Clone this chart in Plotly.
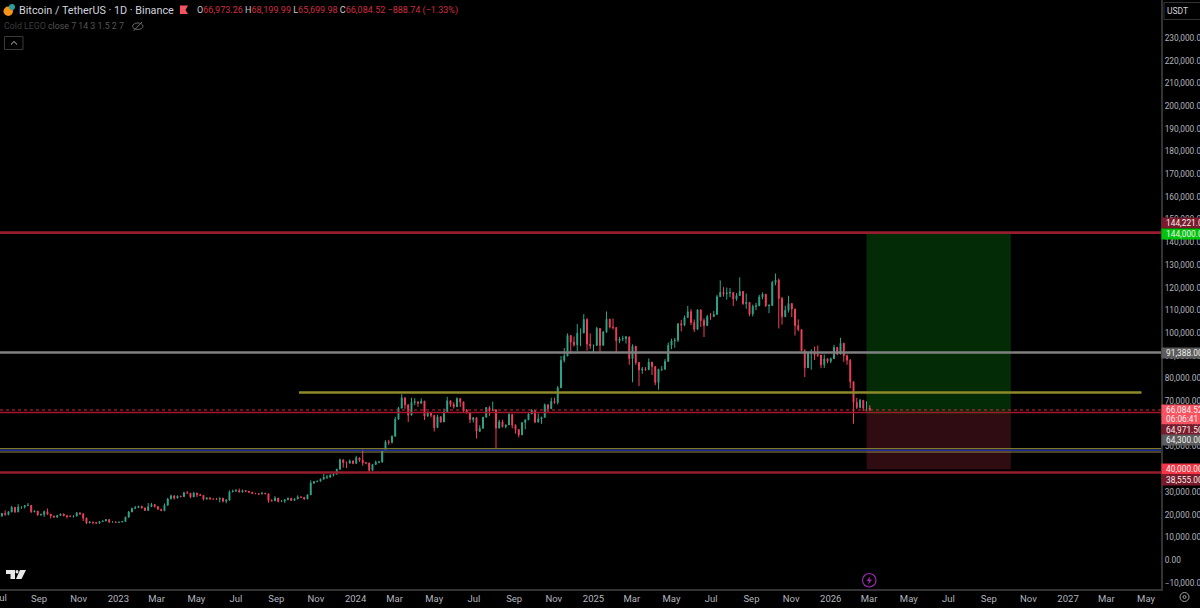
import pandas as pd
import plotly.graph_objects as go

# ---------- data (one candle per 5 days) ----------
first_date = "2022-07-01"
first_open = 19000
closes = [
    19300,20550,19950,21200,23200,21250,23300,23300,23950,24100,
    21150,21550,19800,20000,21350,20200,19400,18900,19600,20300,
    19450,19200,19150,19350,20800,20200,18500,16300,16700,16600,
    16200,16900,17200,17800,16750,16800,16550,16700,16950,18850,
    21150,22700,23050,23700,22950,21850,23500,24450,23550,22350,
    21700,24100,26900,28300,27250,28200,27900,29650,29450,27800,
    29500,28700,28450,26800,27400,26850,26850,26800,27250,25900,
    26350,30000,30300,30600,29900,30600,30250,29900,29350,29250,
    29050,29400,29150,26150,26050,27300,25800,25900,26500,27200,
    26250,26900,27800,27600,26850,28700,33900,34500,34700,35600,
    36450,36550,37300,37800,39950,44150,42900,42650,43700,42550,
    45000,43950,42800,42750,39500,42100,43100,43100,48300,52100,
    51800,54500,62000,66900,71500,68400,63800,69450,69700,69000,
    70000,63400,64950,63750,58300,63150,60800,65250,70150,68500,
    67500,71100,69650,66000,64800,61800,62700,56650,58000,62900,
    67150,65800,66200,58100,60900,58700,59500,64150,59350,57500,
    55100,60550,61750,64300,65800,60750,62150,62850,68400,66650,
    69900,69350,75850,87950,89850,98900,95950,94800,99850,100000,
    106000,95100,94300,94500,102000,94550,100500,106100,102600,102400,
    96600,97400,97500,98300,88700,94200,87000,83700,84100,83800,
    87200,85200,78200,84000,84000,87500,94600,96500,96800,104100,
    103500,106800,109400,104600,101600,110200,105500,103300,107300,107200,
    108200,116000,117900,117300,117600,117800,115000,116500,118300,112900,
    113500,108400,111700,112000,115900,117100,112000,112100,122300,123300,
    115200,107200,110000,113000,110600,103300,101500,92200,84700,91300,
    91300,90400,90300,86000,88600,87500,88700,93700,90700,95500,
    90000,88000,78500,69500,67200,70400,66900,66973,66084.52,
]
highs = [
    20000,20700,21800,21500,23800,22700,24600,23400,24200,25100,
    23100,21800,20400,20500,21750,22700,19700,19500,19800,20400,
    20450,19900,19700,19600,21000,20800,20700,17000,17100,16800,
    16700,17200,17300,18000,17500,16950,16800,16800,17050,19100,
    21600,23100,23800,23800,23000,22300,25100,25200,23900,23600,
    22600,24900,27400,28800,27500,28450,28150,30000,30400,27900,
    30000,28900,29200,27200,27500,27200,27000,27350,27400,26000,
    26800,30700,31000,31250,31500,31000,30400,30350,29750,29550,
    29300,30000,29650,26250,26800,28100,25900,26400,26800,27500,
    26500,27200,28500,28000,27000,28900,35100,34800,35000,35900,
    37900,37500,37800,38400,40200,44700,43400,43400,44300,43700,
    45900,44500,48900,43200,41000,42200,43800,43700,48500,52800,
    52900,54900,63000,67500,73000,69000,66600,71500,71300,69500,
    71200,64300,65400,65200,60700,64000,61500,66700,71900,69500,
    69500,71700,70200,66800,66500,62300,63000,58400,59400,63000,
    67400,67800,69800,61100,61800,61800,59700,64700,61200,59800,
    55900,60600,61800,64700,66500,62200,64500,63100,68900,67500,
    71500,71500,76700,89900,93400,99800,98700,98400,103900,102000,
    108300,106500,99800,95000,102700,95700,100700,109500,105500,106400,
    102200,98300,98800,98700,96500,95000,92800,84200,85100,85000,
    88800,85500,83500,84200,85500,88500,95800,97500,97800,104200,
    105800,107700,111900,110500,106000,110500,110300,106500,108000,108800,
    109700,116800,123200,120200,120000,119800,117200,117600,124500,117500,
    117400,113300,112500,113300,116800,117900,113300,112700,123000,126200,
    124000,115900,112000,116400,111200,107500,106000,101500,92800,91900,
    92800,94000,94500,88200,90500,89000,89200,94800,91500,97900,
    93000,90500,88500,76500,71400,71000,70400,69900,68199.99,
]
lows = [
    18800,19300,19500,19700,21000,20700,21000,22500,22700,23800,
    20800,21300,19600,19600,19000,19900,18300,18700,18500,19500,
    19300,18300,19000,18700,20100,20050,17200,15800,16500,15700,
    16000,16800,16800,17100,16300,16600,16400,16550,16900,17900,
    20800,22300,22900,22900,22600,21600,23350,24100,23100,22300,
    21600,21800,26600,27200,26600,27900,27700,29300,29300,27200,
    28900,27700,28300,26200,26700,26650,26700,26600,25400,25400,
    25000,28300,29900,30200,29850,30200,29900,29600,29100,29100,
    28600,29300,29000,25200,25800,25950,25400,25600,25200,26800,
    26100,26500,27200,27400,26550,28200,30700,33500,34300,34800,
    36300,35700,36100,36800,38600,43000,40700,40500,43300,42200,
    42600,43200,41500,42200,38500,41900,41900,42600,46800,51300,
    50700,51300,60000,62300,68600,66600,60800,68500,68200,67500,
    69700,61700,63100,62800,56600,62800,60500,61500,69200,67500,
    66700,70400,67400,65000,64500,60300,60600,53500,56800,60600,
    66000,63500,65900,49000,60000,58400,58000,60700,58000,55700,
    54000,57500,57600,62800,65000,60300,61500,60000,67400,65200,
    67500,68800,68500,85000,87000,94000,90800,94000,92000,94200,
    104000,92200,93000,91300,97500,91000,96600,100100,102000,101500,
    91200,95500,96400,95300,86000,78300,86000,76600,82000,83400,
    85800,81500,77000,75000,83200,83900,92800,92900,93500,96000,
    100700,103000,106700,103500,100400,105000,102700,98200,106600,105800,
    107300,110200,116500,116000,114700,115800,111900,114200,117200,112400,
    110700,107400,107300,110000,113400,114800,111500,108700,114000,121000,
    102000,103700,106900,109000,107000,98900,100800,91900,80600,85400,
    83800,88100,89500,84500,84600,86700,86700,89900,90200,94300,
    87300,86000,75700,60000,66500,66800,65600,65500,65699.98,
]
price_ticks = list(range(-10000, 240000, 10000))
date_ticks = ["2022-09-01","2022-11-01","2023-01-01","2023-03-01","2023-05-01","2023-07-01",
              "2023-09-01","2023-11-01","2024-01-01","2024-03-01","2024-05-01","2024-07-01",
              "2024-09-01","2024-11-01","2025-01-01","2025-03-01","2025-05-01","2025-07-01",
              "2025-09-01","2025-11-01","2026-01-01","2026-03-01","2026-05-01","2026-07-01",
              "2026-09-01","2026-11-01","2027-01-01","2027-03-01","2027-05-01"]
date_labels = ["Sep","Nov","2023","Mar","May","Jul","Sep","Nov","2024","Mar","May","Jul","Sep","Nov",
               "2025","Mar","May","Jul","Sep","Nov","2026","Mar","May","Jul","Sep","Nov","2027","Mar","May"]
x_range = ["2022-07-03", "2027-05-24"]
y_range = [-12775, 246696]
target_price, entry_price, stop_price = 144000, 64300, 40000
box_start, box_end = "2026-02-25", "2026-10-05"
level_yellow, yellow_start, yellow_end = 73800, "2023-10-06", "2027-04-24"
level_olive_hi, level_blue, level_olive_lo = 49100, 48300, 47570
level_grey, level_top, level_low, level_mid, level_last = 91388, 144221, 38555, 64971.5, 66084.52
# price, text, background, pixel shift
axis_labels = [
    (144221, "144,221.00", "#7b1a2a", 9.6),
    (144000, "144,000.00", "#00c40a", -1),
    (91388, "91,388.00", "#5c5c5c", 0),
    (66084.52, "66,084.52", "#f7525f", 0),
    (66084.52, "06:06:41", "#f7525f", -9.3),
    (64971.5, "64,971.50", "#7b1a2a", -17),
    (64300, "64,300.00", "#5c5c5c", -25.5),
    (40000, "40,000.00", "#f23645", 0),
    (38555, "38,555.00", "#7b1a2a", -8),
]
W, H = 1200, 608
FONT = "Roboto"
GREY = "#b2b5be"
UP, DOWN = "#2fa58a", "#f0405a"

opens = [first_open] + closes[:-1]
dates = pd.date_range(first_date, periods=len(closes), freq="5D")

fig = go.Figure(go.Candlestick(
    x=dates, open=opens, high=highs, low=lows, close=closes,
    increasing=dict(line=dict(color=UP, width=1), fillcolor=UP),
    decreasing=dict(line=dict(color=DOWN, width=1), fillcolor=DOWN),
    whiskerwidth=0, hoverinfo="skip", showlegend=False,
))

def px(x): return x / W
def py(y): return 1 - y / H

def pshape(kind, x0, y0, x1, y1, **kw):
    fig.add_shape(type=kind, xref="paper", yref="paper",
                  x0=px(x0), y0=py(y0), x1=px(x1), y1=py(y1), **kw)

def ppath(points, close=True, **kw):
    d = "M " + " L ".join(f"{px(a):.5f},{py(b):.5f}" for a, b in points) + (" Z" if close else "")
    fig.add_shape(type="path", xref="paper", yref="paper", path=d, **kw)

def note(text, x, y, size=10, color=GREY, **kw):
    fig.add_annotation(text=text, xref="paper", yref="paper", x=px(x), y=py(y),
                       xanchor=kw.pop("xanchor", "left"), yanchor="middle", showarrow=False,
                       font=dict(family=FONT, size=size, color=color), **kw)

# position boxes
fig.add_shape(type="rect", xref="x", yref="y", x0=box_start, x1=box_end, y0=entry_price, y1=target_price,
              fillcolor="#032c06", line_width=0, layer="below")
fig.add_shape(type="rect", xref="x", yref="y", x0=box_start, x1=box_end, y0=stop_price, y1=entry_price,
              fillcolor="#2e0c12", line_width=0, layer="below")

# horizontal levels
def hline(y, color, width, dash="solid", x0=x_range[0], x1=x_range[1], layer="above"):
    fig.add_shape(type="line", xref="x", yref="y", x0=x0, x1=x1, y0=y, y1=y,
                  line=dict(color=color, width=width, dash=dash), layer=layer)

hline(level_top, "#961c2e", 2.6)
hline(level_low, "#961c2e", 2.6)
hline(level_mid, "#a8162c", 1.5)
hline(level_last, "#d02a40", 1, dash="dot")
hline(level_grey, "#808080", 2.4)
hline(level_yellow, "#8e8a2c", 2.4, x0=yellow_start, x1=yellow_end)
hline(level_olive_hi, "#7d7a28", 1.2)
hline(level_blue, "#1f2c99", 1.5)
hline(level_olive_lo, "#8e8a50", 1)

# header
note("Bitcoin / TetherUS · 1D · Binance", 16.5, 10.5, size=10.8, color="#d1d4dc")
red = lambda s: f'<span style="color:#d22c40">{s}</span>'
note("O" + red("66,973.26") + " H" + red("68,199.99") + " L" + red("65,699.98") +
     " C" + red("66,084.52") + " " + red("−888.74 (−1.33%)"), 195, 10.5, size=9, color="#c8cad0")
note('<span style="color:#3c3c3c">Cold LEGO</span> close 7 14 3 1.5 2 7', 1.5, 26, size=8.8, color="#555555")
note("USDT", 1164.5, 10.5, size=8.5, color="#d1d4dc")

# small icons
pshape("circle", 3.5, 6.5, 13, 16, fillcolor="#f7931a", line_width=0)
pshape("circle", 9, 4, 15, 10, fillcolor="#2aa198", line_width=0)
ppath([(180, 5.5), (188, 5.5), (185.5, 10), (188, 14), (180, 14)], fillcolor="#f7525f", line_width=0)
pshape("circle", 132.5, 23, 143, 29.5, line=dict(color="#6a6a6a", width=1))
ppath([(133.5, 31), (142, 22)], close=False, line=dict(color="#6a6a6a", width=1))
pshape("rect", 4.5, 36.5, 23, 49.5, line=dict(color="#3a3a3a", width=1))
ppath([(11, 44.5), (14, 41.5), (17, 44.5)], close=False, line=dict(color="#c0c0c0", width=1))
pshape("rect", 1164, 2.5, 1210, 19.5, line=dict(color="#333333", width=1))
# TradingView mark
ppath([(6, 570), (15, 570), (15, 579), (10.5, 579), (10.5, 574), (6, 574)], fillcolor="#e8e8e8", line_width=0)
pshape("circle", 15.5, 570, 18.5, 573.5, fillcolor="#e8e8e8", line_width=0)
ppath([(20, 570), (26, 570), (21.5, 579), (16, 579)], fillcolor="#e8e8e8", line_width=0)
# bolt in circle
pshape("circle", 862.5, 573.5, 876, 587, line=dict(color="#9c27b0", width=1.2))
ppath([(870.5, 576), (866.5, 581), (869, 581), (868, 585), (872, 579.5), (869.5, 579.5)],
      fillcolor="#9c27b0", line_width=0)
# settings icon
pshape("circle", 1180, 592.5, 1189, 601.5, line=dict(color="#a0a0a0", width=1))
pshape("circle", 1183, 595.5, 1186, 598.5, line=dict(color="#a0a0a0", width=1))

# clipped first month label
fig.add_annotation(text="Jul", xref="paper", yref="paper", x=px(0.5), y=py(597), xanchor="center",
                   yanchor="middle", showarrow=False, font=dict(family=FONT, size=9.5, color=GREY))

# axis price labels
for price, text, bg, shift in axis_labels:
    fig.add_annotation(text="&nbsp;&nbsp;" + text, xref="paper", yref="y", x=px(1161), y=price, yshift=shift,
                       xanchor="left", yanchor="middle", showarrow=False, width=39, height=9.6,
                       align="left", bgcolor=bg, borderpad=0,
                       font=dict(family=FONT, size=8.3, color="#f0f0f0"))

fig.update_layout(
    width=W, height=H,
    margin=dict(l=0, r=0, t=0, b=0),
    paper_bgcolor="#000000", plot_bgcolor="#000000",
    boxgap=0.6,
    showlegend=False,
    xaxis=dict(
        domain=[0, 1161 / W], range=x_range, type="date",
        rangeslider=dict(visible=False),
        tickmode="array", tickvals=date_ticks, ticktext=date_labels,
        tickfont=dict(family=FONT, size=9.5, color=GREY),
        ticks="", showgrid=False, zeroline=False,
        showline=True, linecolor="#333333", linewidth=2,
        anchor="y",
    ),
    yaxis=dict(
        domain=[(H - 589) / H, 1], range=y_range, side="right",
        tickmode="array", tickvals=price_ticks, tickformat=",.2f",
        tickfont=dict(family=FONT, size=8.3, color=GREY),
        ticks="", showgrid=False, zeroline=False,
        showline=True, linecolor="#333333", linewidth=2,
        anchor="x", automargin=False,
    ),
)

fig.write_html("out.html", config=dict(displayModeBar=False),
               post_script="document.body.style.margin='0';document.body.style.background='#000';")
